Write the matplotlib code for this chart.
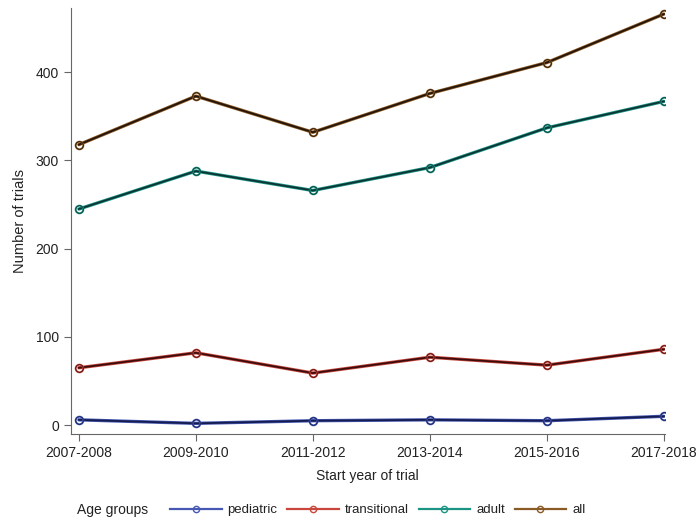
import matplotlib
matplotlib.use('Agg')
import matplotlib.pyplot as plt
from matplotlib.lines import Line2D

### data
periods = ['2007-2008', '2009-2010', '2011-2012', '2013-2014', '2015-2016', '2017-2018']
pediatric = [6, 2, 5, 6, 5, 10]
transitional = [65, 82, 59, 77, 68, 86]
adult = [245, 288, 266, 292, 337, 367]
all_ages = [318, 373, 332, 376, 411, 466]

groups = ['pediatric', 'transitional', 'adult', 'all']
series = [pediatric, transitional, adult, all_ages]
light = ['#4658b4', '#c8463c', '#1c9484', '#8a5a24']
dark = ['#141c50', '#3c0c0c', '#0c3434', '#24140a']

plt.rcParams['font.family'] = ['Liberation Sans', 'DejaVu Sans']

fig = plt.figure(figsize=(7.0, 5.26), dpi=100)
ax = fig.add_axes([0.101, 0.175, 0.849, 0.81])

x = list(range(len(periods)))
for vals, lc, dc in zip(series, light, dark):
    ax.plot(x, vals, color=lc, lw=2.4, solid_capstyle='round', zorder=2)
    ax.plot(x, vals, color=dc, lw=1.3, zorder=3)
    ax.plot(x, vals, ls='none', marker='o', ms=5.5, mfc='none', mec=lc, mew=1.4, zorder=4)
    ax.plot(x, vals, ls='none', marker='o', ms=5.5, mfc='none', mec=dc, mew=0.5, zorder=5)

ax.set_xlim(-0.07, 5.01)
ax.set_ylim(-10, 473)
ax.set_xticks(x)
ax.set_xticklabels(periods)
ax.set_yticks([0, 100, 200, 300, 400])

for s in ['top', 'right']:
    ax.spines[s].set_visible(False)
for s in ['left', 'bottom']:
    ax.spines[s].set_color('#666666')
    ax.spines[s].set_linewidth(0.8)
ax.tick_params(colors='#666666', labelcolor='#222222', labelsize=10, length=5, width=0.8)

ax.set_xlabel('Start year of trial', fontsize=10, color='#222222', labelpad=7)
ax.set_ylabel('Number of trials', fontsize=10.5, color='#222222', labelpad=6)

### legend along the bottom
handles = [Line2D([], [], color=lc, lw=1.6, marker='o', ms=4.5, mfc='none', mec=lc, mew=1.0)
           for lc in light]
fig.text(0.11, 0.03, 'Age groups', fontsize=10, color='#222222', va='center')
leg = fig.legend(handles, groups, loc='center left', bbox_to_anchor=(0.243, 0.03), ncol=4,
                 frameon=False, fontsize=9.5, handlelength=3.9, handletextpad=0.45,
                 columnspacing=0.75, borderpad=0, borderaxespad=0, labelcolor='#222222')

fig.savefig('out.png', dpi=100)
